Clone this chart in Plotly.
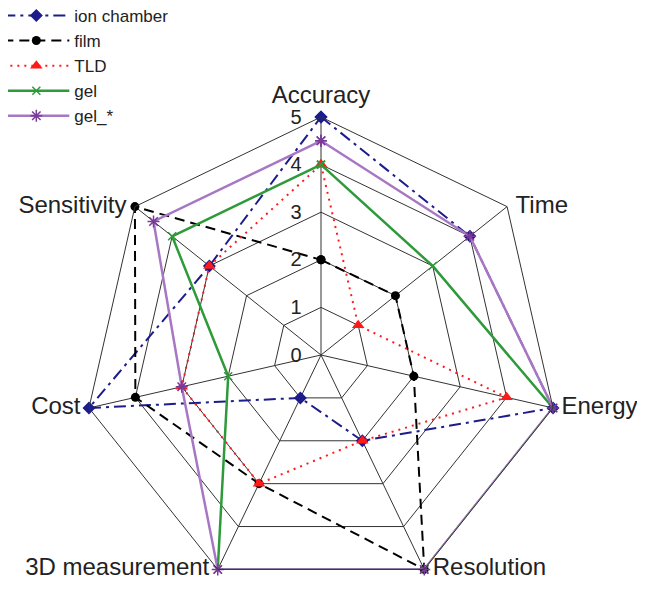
import plotly.graph_objects as go

categories = ["Accuracy", "Time", "Energy", "Resolution", "3D measurement", "Cost", "Sensitivity"]
ion_chamber = [5, 4, 5, 2, 1, 5, 3]
film = [2, 2, 2, 5, 3, 4, 5]
tld = [4, 1, 4, 2, 3, 3, 3]
gel = [4, 3, 5, 5, 5, 2, 4]
gel_star = [4.5, 4, 5, 5, 5, 3, 4.5]
radial_ticks = [0, 1, 2, 3, 4, 5]
label_positions = ["top center", "middle right", "middle right", "middle right",
                   "middle left", "middle left", "middle left"]

def closed(v):
    return list(v) + [v[0]]

cats = closed(categories)

series = [
    ("ion chamber", ion_chamber, dict(color="#1c1c8c", width=2, dash="12px,5px,3px,5px"),
     dict(symbol="diamond", size=10, color="#1c1c8c")),
    ("film", film, dict(color="black", width=2, dash="10px,6px"),
     dict(symbol="circle", size=9, color="black")),
    ("TLD", tld, dict(color="#ff1a1a", width=2, dash="2px,5px"),
     dict(symbol="triangle-up", size=11, color="#ff1a1a")),
    ("gel", gel, dict(color="#2e9a3a", width=2.5, dash="solid"),
     dict(symbol="x-thin-open", size=8, color="#2e9a3a", line=dict(color="#2e9a3a", width=1.5))),
    ("gel_*", gel_star, dict(color="#a877c4", width=2.5, dash="solid"),
     dict(symbol="asterisk-open", size=10, color="#7a3a9a", line=dict(color="#7a3a9a", width=1.5))),
]

fig = go.Figure()
for name, vals, line, marker in series:
    fig.add_trace(go.Scatterpolar(
        r=closed(vals), theta=cats, name=name, mode="lines+markers",
        line=line, marker=marker,
    ))

# category labels placed at the outer ring vertices
fig.add_trace(go.Scatterpolar(
    r=[5] * len(categories), theta=categories, mode="markers+text",
    text=categories, textposition=label_positions,
    marker=dict(size=12, opacity=0), cliponaxis=False,
    textfont=dict(family="Liberation Sans, Arial, sans-serif", size=24, color="#222"),
    showlegend=False, hoverinfo="skip",
))

fig.update_layout(
    width=645, height=595,
    margin=dict(l=0, r=0, t=0, b=0, autoexpand=False),
    paper_bgcolor="white",
    font=dict(family="Liberation Sans, Arial, sans-serif", size=17, color="#222"),
    showlegend=True,
    legend=dict(x=-0.015, y=1.017, xanchor="left", yanchor="top", bgcolor="rgba(0,0,0,0)",
                font=dict(size=17), tracegroupgap=0, itemwidth=66),
    polar=dict(
        domain=dict(x=[75/645, 551/645], y=[1-585/595, 1-109/595]),
        gridshape="linear",
        bgcolor="white",
        radialaxis=dict(
            range=[0, 5], tickvals=radial_ticks, ticktext=[str(t) for t in radial_ticks],
            angle=90, tickangle=90, side="counterclockwise",
            showline=False, ticks="outside", ticklen=12, tickcolor="rgba(0,0,0,0)",
            gridcolor="#333", gridwidth=1,
            tickfont=dict(size=20, color="#222"),
        ),
        angularaxis=dict(
            direction="clockwise", rotation=90,
            showline=True, linecolor="#333", linewidth=1,
            gridcolor="#333", gridwidth=1, ticks="", showticklabels=False,
        ),
    ),
)

fig.write_html("out.html")
